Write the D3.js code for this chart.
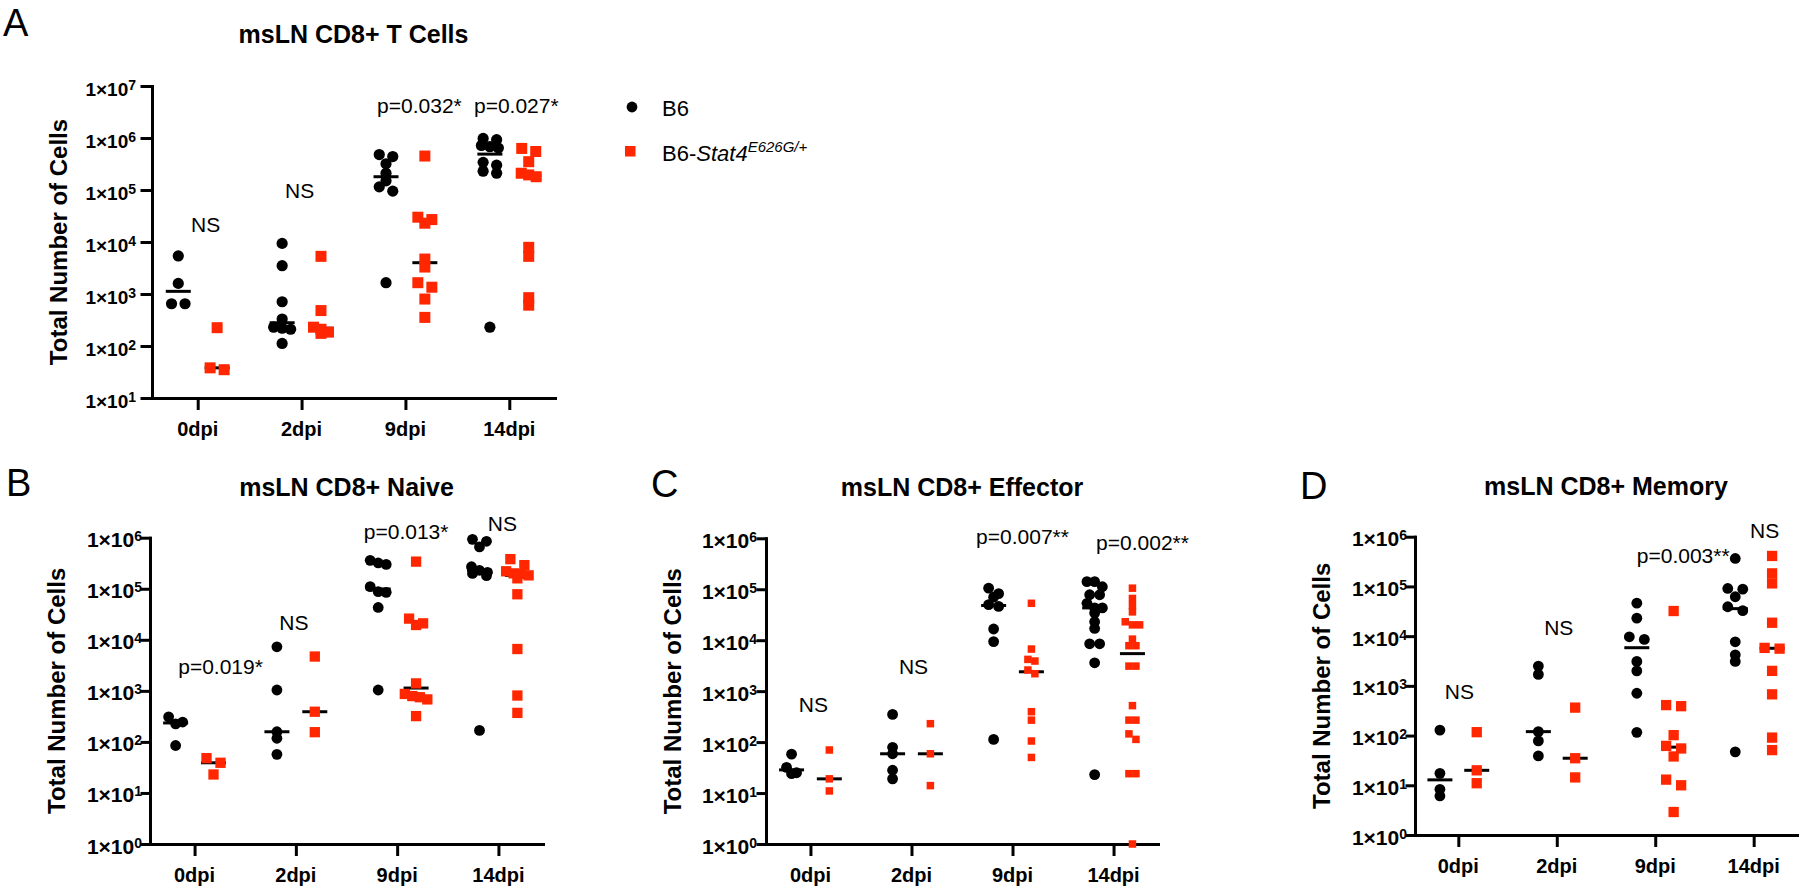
<!DOCTYPE html>
<html><head><meta charset="utf-8">
<script src="https://cdn.jsdelivr.net/npm/d3@7"></script>
<style>
body{margin:0;background:#fff}
svg{display:block}
text{font-family:"Liberation Sans", Arial, sans-serif; fill:#000}
</style>
</head><body>
<svg id="c" width="1800" height="890"></svg>
<script>
// ---------- DATA ----------
const categories = ["0dpi", "2dpi", "9dpi", "14dpi"];
const seriesNames = ["B6", "B6-"];
const seriesItalic = ["", "Stat4"];
const seriesSup = ["", "E626G/+"];

const yTickExpA = [1, 2, 3, 4, 5, 6, 7];
const yTickExpBCD = [0, 1, 2, 3, 4, 5, 6];

// Panel A: msLN CD8+ T Cells
const aB6 = [
  [5400, 1600, 650, 650],
  [9400, 3500, 710, 330, 230, 220, 210, 112],
  [480000, 440000, 320000, 210000, 150000, 115000, 95000, 1650],
  [980000, 930000, 720000, 680000, 640000, 340000, 300000, 230000, 210000, 230]
];
const aStat4 = [
  [225, 38, 35],
  [5300, 480, 230, 210, 185, 175],
  [450000, 30000, 27000, 23000, 4700, 3300, 1650, 1350, 800, 355],
  [630000, 550000, 350000, 210000, 195000, 180000, 7900, 5300, 850, 610]
];
const aStats = ["NS", "NS", "p=0.032*", "p=0.027*"];

// Panel B: msLN CD8+ Naive
const bB6 = [
  [310, 245, 225, 85],
  [7300, 1040, 158, 118, 57],
  [360000, 320000, 300000, 110000, 88000, 85000, 43000, 1040],
  [930000, 850000, 660000, 270000, 230000, 210000, 200000, 180000, 168]
];
const bStat4 = [
  [48, 39, 23],
  [4700, 390, 155],
  [340000, 26000, 21000, 19500, 1400, 870, 790, 750, 680, 320],
  [380000, 290000, 220000, 200000, 195000, 183000, 160000, 78000, 6600, 810, 370]
];
const bStats = ["p=0.019*", "NS", "p=0.013*", "NS"];

// Panel C: msLN CD8+ Effector
const cB6 = [
  [58, 32, 25, 24],
  [350, 79, 59, 28, 19],
  [105000, 82000, 70000, 50000, 46000, 16600, 9400, 113],
  [141000, 141000, 112000, 78000, 78000, 53000, 43000, 43000, 34000, 23000, 17000, 8500, 8500, 3600, 23]
];
const cStat4 = [
  [70, 19, 11],
  [230, 59, 14],
  [53000, 6700, 4200, 3900, 2600, 2200, 395, 270, 105, 50],
  [105000, 66000, 48000, 36000, 23000, 20000, 20000, 10500, 7800, 7800, 3100, 3100, 520, 270, 270, 145, 113, 24, 24, 1]
];
const cStats = ["NS", "NS", "p=0.007**", "p=0.002**"];

// Panel D: msLN CD8+ Memory
const dB6 = [
  [129, 17.4, 8.3, 6.1],
  [2500, 1700, 120, 78, 39],
  [46000, 23000, 9700, 8600, 3100, 2000, 710, 116],
  [365000, 91000, 88000, 62000, 39000, 32500, 7700, 4200, 3100, 47]
];
const dStat4 = [
  [117, 20, 11],
  [365, 35, 14.4],
  [32000, 410, 390, 102, 62, 55, 38, 13, 10, 2.9],
  [410000, 183000, 115000, 18600, 5800, 5600, 2000, 675, 91, 51]
];
const dStats = ["NS", "NS", "p=0.003**", "NS"];

// ---------- LAYOUT ----------
const RED = "#ff2600";
const panels = [
  {letter: "A", title: "msLN CD8+ T Cells", series: [aB6, aStat4], stats: aStats, exps: yTickExpA,
   statLv: [4.33, 4.98, 6.62, 6.62], statDx: [8, -2, 14, 7],
   left: 152, right: 555, top: 86, bottom: 398, titleY: 43, letterX: 3, letterY: 36,
   r: 5.6, sq: 11, pairS: [13.5, 14], multiS: [8.5, 7.5], tickFont: 19, labelGap: 16, ytick: 10},
  {letter: "B", title: "msLN CD8+ Naive", series: [bB6, bStat4], stats: bStats, exps: yTickExpBCD,
   statLv: [3.47, 4.33, 6.11, 6.27], statDx: [26, -2, 9, 4],
   left: 150, right: 543, top: 537.7, bottom: 844, titleY: 496, letterX: 6, letterY: 496,
   r: 5.4, sq: 10.3, pairS: [14, 14], multiS: [8, 7.5], tickFont: 21, labelGap: 8, ytick: 8},
  {letter: "C", title: "msLN CD8+ Effector", series: [cB6, cStat4], stats: cStats, exps: yTickExpBCD,
   statLv: [2.73, 3.49, 6.04, 5.92], statDx: [3, 2, 10, 29],
   left: 766, right: 1158, top: 538.3, bottom: 844, titleY: 496, letterX: 651, letterY: 497,
   r: 5.4, sq: 7.5, pairS: [10, 7], multiS: [7.7, 7.2], tickFont: 21, labelGap: 9, ytick: 8},
  {letter: "D", title: "msLN CD8+ Memory", series: [dB6, dStat4], stats: dStats, exps: yTickExpBCD,
   statLv: [2.88, 4.18, 5.61, 6.12], statDx: [1, 2, 28, 11],
   left: 1415, right: 1797, top: 536.7, bottom: 835, titleY: 495, letterX: 1300, letterY: 499,
   r: 5.4, sq: 10.3, pairS: [15, 15], multiS: [8, 8], tickFont: 21, labelGap: 8, ytick: 8}
];

const svg = d3.select("#c");

function layoutGroup(vals, y, cx, thresh, pairS, multiS) {
  const pts = vals.map(v => ({v: v, py: y(v)})).sort((a, b) => a.py - b.py);
  const rows = [];
  let cur = [];
  pts.forEach(p => {
    if (cur.length && p.py - cur[0].py > thresh) { rows.push(cur); cur = []; }
    cur.push(p);
  });
  if (cur.length) rows.push(cur);
  rows.forEach(row => {
    const n = row.length;
    const s = n === 2 ? pairS : multiS;
    row.forEach((p, i) => { p.px = cx + (i - (n - 1) / 2) * s; });
  });
  return pts;
}

function drawPanel(c) {
  const g = svg.append("g");
  const y = d3.scaleLog()
    .domain([Math.pow(10, c.exps[0]), Math.pow(10, c.exps[c.exps.length - 1])])
    .range([c.bottom, c.top]);
  const x = d3.scalePoint().domain(categories).range([c.left, c.right]).padding(0.44);
  const step = x.step();
  const tickVals = c.exps.map(e => Math.pow(10, e));

  // axes
  g.append("g").attr("transform", `translate(${c.left},0)`)
    .call(d3.axisLeft(y).tickValues(tickVals).tickSize(c.ytick).tickSizeOuter(0).tickFormat(() => ""))
    .call(s => {
      s.selectAll("path,line").attr("stroke", "#000").attr("stroke-width", 3).attr("stroke-linecap", "square");
      s.selectAll("text").remove();
    });
  g.append("g").attr("transform", `translate(0,${c.bottom})`)
    .call(d3.axisBottom(x).tickSize(12).tickSizeOuter(0).tickFormat(() => ""))
    .call(s => {
      s.selectAll("path,line").attr("stroke", "#000").attr("stroke-width", 3);
      s.select("path").attr("stroke-linecap", "square");
      s.selectAll("text").remove();
    });

  // y tick labels
  tickVals.forEach((v, i) => {
    const t = g.append("text")
      .attr("x", c.left - c.labelGap).attr("y", y(v) + 9.5)
      .attr("text-anchor", "end").attr("font-weight", "bold").attr("font-size", c.tickFont);
    t.append("tspan").text("1×10");
    t.append("tspan").attr("dy", -6).attr("font-size", 14).text(c.exps[i]);
  });

  // x tick labels
  categories.forEach(cat => {
    g.append("text").attr("x", x(cat)).attr("y", c.bottom + 38)
      .attr("text-anchor", "middle").attr("font-weight", "bold").attr("font-size", 20).text(cat);
  });

  // y axis title
  g.append("text")
    .attr("transform", `translate(${c.left - 85},${(c.top + c.bottom) / 2}) rotate(-90)`)
    .attr("text-anchor", "middle").attr("font-weight", "bold").attr("font-size", 24)
    .text("Total Number of Cells");

  // title & letter
  g.append("text").attr("x", (c.left + c.right) / 2).attr("y", c.titleY)
    .attr("text-anchor", "middle").attr("font-weight", "bold").attr("font-size", 25).text(c.title);
  g.append("text").attr("x", c.letterX).attr("y", c.letterY)
    .attr("font-size", 38).text(c.letter);

  // data
  categories.forEach((cat, i) => {
    [0, 1].forEach(s => {
      const vals = c.series[s][i];
      const cx = x(cat) + (s === 0 ? -1 : 1) * step * 0.187;
      const med = d3.median(vals);
      g.append("line")
        .attr("x1", cx - 12.5).attr("x2", cx + 12.5)
        .attr("y1", y(med)).attr("y2", y(med))
        .attr("stroke", "#000").attr("stroke-width", 3);
      const pts = layoutGroup(vals, y, cx, 6, c.pairS[s], c.multiS[s]);
      if (s === 0) {
        g.selectAll(null).data(pts).enter().append("circle")
          .attr("cx", d => d.px).attr("cy", d => d.py).attr("r", c.r).attr("fill", "#000");
      } else {
        g.selectAll(null).data(pts).enter().append("rect")
          .attr("x", d => d.px - c.sq / 2).attr("y", d => d.py - c.sq / 2)
          .attr("width", c.sq).attr("height", c.sq).attr("fill", RED);
      }
    });
    // annotation
    g.append("text")
      .attr("x", x(cat) + c.statDx[i]).attr("y", y(Math.pow(10, c.statLv[i])))
      .attr("dy", "0.35em").attr("text-anchor", "middle").attr("font-size", 21)
      .text(c.stats[i]);
  });
}

panels.forEach(drawPanel);

// legend
const lg = svg.append("g");
lg.append("circle").attr("cx", 632).attr("cy", 107).attr("r", 5.4).attr("fill", "#000");
lg.append("text").attr("x", 662).attr("y", 116).attr("font-size", 22).text(seriesNames[0]);
lg.append("rect").attr("x", 625).attr("y", 146).attr("width", 10.5).attr("height", 10.5).attr("fill", RED);
const lt = lg.append("text").attr("x", 662).attr("y", 161).attr("font-size", 22);
lt.append("tspan").text(seriesNames[1]);
lt.append("tspan").attr("font-style", "italic").text(seriesItalic[1]);
lt.append("tspan").attr("font-style", "italic").attr("font-size", 15).attr("dy", -9).text(seriesSup[1]);
</script>
</body></html>
